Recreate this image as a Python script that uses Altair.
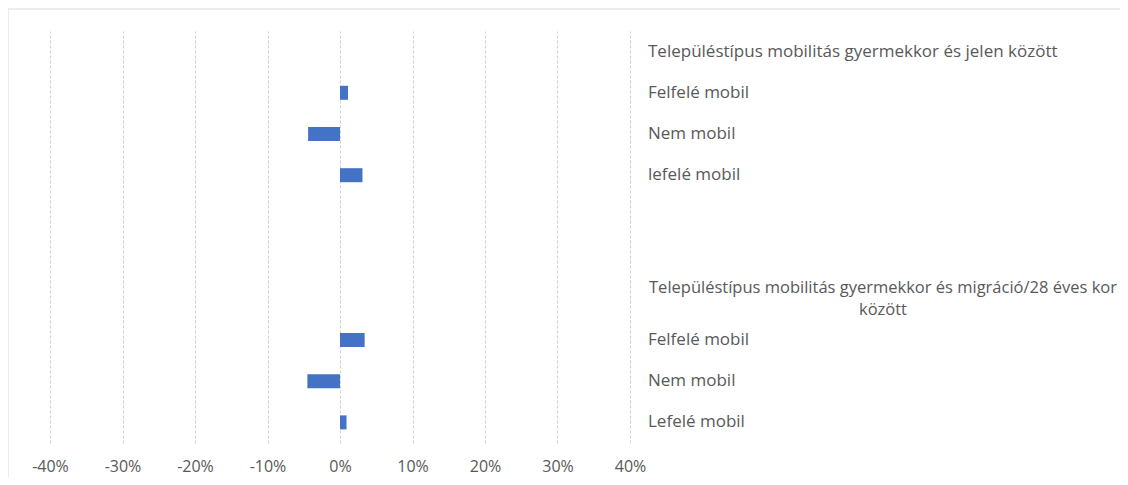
import altair as alt
import pandas as pd

# --- data ---
row_ids = [0, 1, 2, 3, 4, 5, 6, 7, 8, 9]
row_labels = [
    "Településtípus mobilitás gyermekkor és jelen között",
    "Felfelé mobil",
    "Nem mobil",
    "lefelé mobil",
    "",
    "",
    "Településtípus mobilitás gyermekkor és migráció/28 éves kor\nközött",
    "Felfelé mobil",
    "Nem mobil",
    "Lefelé mobil",
]
row_is_wrapped = [False, False, False, False, False, False, True, False, False, False]
values = [None, 0.011, -0.044, 0.031, None, None, None, 0.034, -0.045, 0.009]
x_ticks = [-0.4, -0.3, -0.2, -0.1, 0.0, 0.1, 0.2, 0.3, 0.4]

df = pd.DataFrame({"id": row_ids, "label": row_labels, "wrapped": row_is_wrapped, "value": values})

FONT = "Open Sans"
TXT = "#595959"

y_enc = alt.Y("id:O", sort=row_ids, axis=None,
              scale=alt.Scale(domain=row_ids, paddingInner=0, paddingOuter=0))

bars = alt.Chart(df).transform_filter("isValid(datum.value)").mark_bar(
    color="#4472C4", size=14
).encode(
    x=alt.X("value:Q",
            scale=alt.Scale(domain=[-0.4, 0.4], nice=False, zero=False),
            axis=alt.Axis(values=x_ticks, title=None, domain=False, ticks=False,
                          labelFlush=False, labelOverlap=False,
                          labelExpr="(datum.value < -0.0001 ? '-' : '') + format(abs(datum.value), '.0%')",
                          grid=True, gridColor="#d0d0d0", gridDash=[3, 2], gridWidth=1,
                          labelFont=FONT, labelFontSize=16, labelColor=TXT, labelPadding=15)),
    y=y_enc,
)

labels_left = alt.Chart(df).transform_filter("!datum.wrapped").mark_text(
    align="left", baseline="middle", font=FONT, fontSize=17, color=TXT
).encode(y=y_enc, x=alt.value(598), text="label:N")

labels_wrapped = alt.Chart(df).transform_filter("datum.wrapped").mark_text(
    align="center", baseline="middle", font=FONT, fontSize=16.5, color=TXT,
    lineBreak="\n", lineHeight=22, dy=-11
).encode(y=y_enc, x=alt.value(833), text="label:N")

one = pd.DataFrame({"k": [0]})
border_left = alt.Chart(one).mark_rule(color="#d9d9d9", strokeWidth=1).encode(
    x=alt.value(-42), y=alt.value(-22), y2=alt.value(446))
border_top = alt.Chart(one).mark_rule(color="#d9d9d9", strokeWidth=1).encode(
    x=alt.value(-42), x2=alt.value(1070), y=alt.value(-22))

chart = alt.layer(bars, labels_left, labels_wrapped, border_left, border_top).properties(
    width=580, height=412,
    autosize=alt.AutoSizeParams(type="none"),
    padding={"left": 42, "top": 23, "right": 490, "bottom": 34},
).configure_view(stroke=None)

chart.save("out.html", embed_options={"renderer": "svg", "actions": False})
